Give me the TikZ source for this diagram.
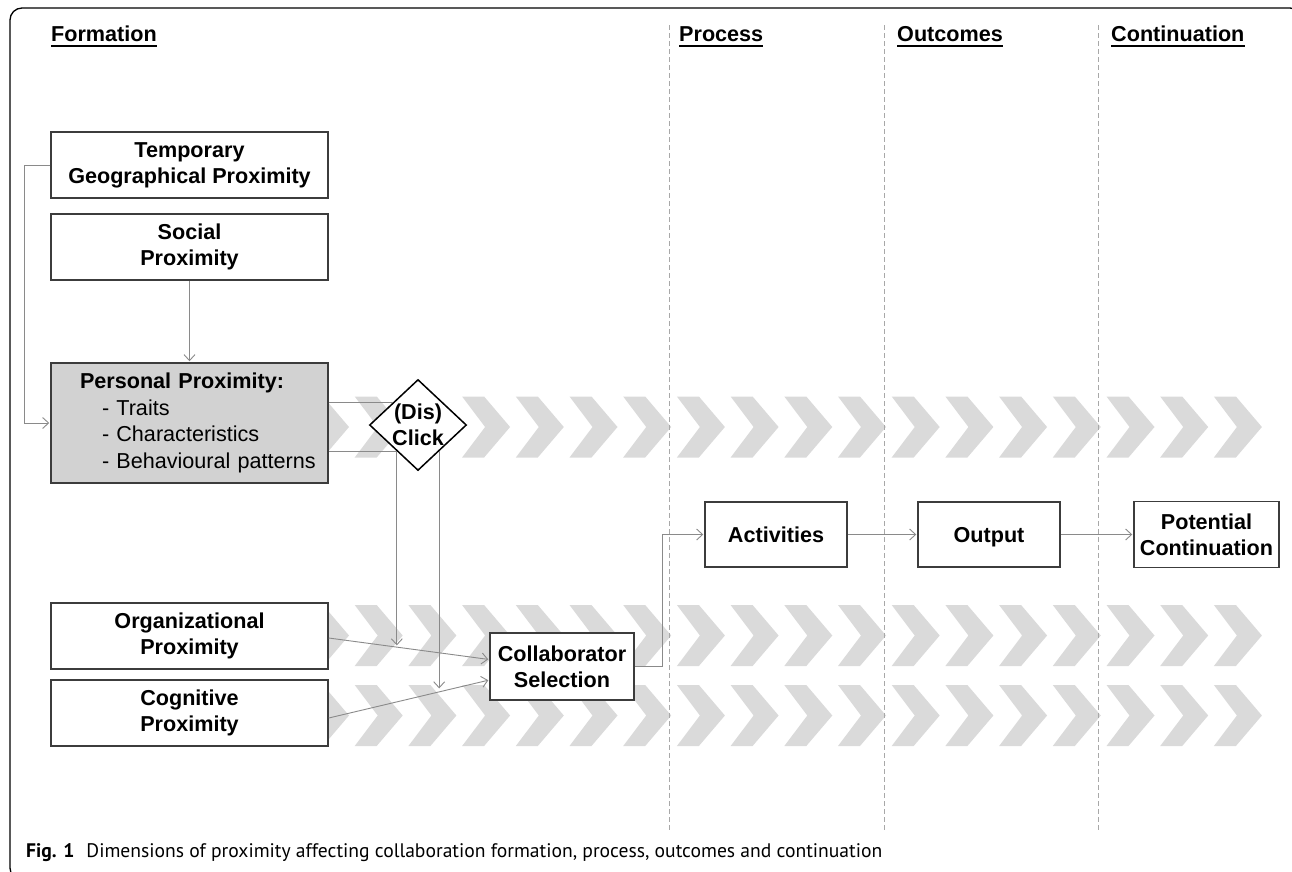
\documentclass[tikz,border=0pt]{standalone}
\usepackage{fontspec}
\setmainfont{Liberation Sans}
\newfontfamily\capfont{PT Sans}
\usetikzlibrary{shapes.geometric,arrows.meta,calc}
\definecolor{chevgray}{HTML}{DADADA}
\definecolor{boxgray}{HTML}{D2D2D2}
\definecolor{linkgray}{HTML}{8A8A8A}
\definecolor{dashgray}{HTML}{A8A8A8}
\definecolor{edgegray}{HTML}{3C3C3C}

\begin{document}
\fontsize{21.6}{26}\selectfont
\begin{tikzpicture}[x=1pt, y=-1pt,
    box/.style={draw=edgegray, line width=1.5pt, fill=white, minimum width=#1,
        minimum height=66pt, align=center, inner sep=2pt, font=\bfseries},
    box/.default=277pt,
    oneline/.style={text height=15.6pt, text depth=0pt},
    link/.style={draw=linkgray, line width=0.9pt},
    arr/.style={link, -{Straight Barb[length=6pt, width=11pt]}, shorten >=1pt},
    phase/.style={dashgray, line width=1pt, dash pattern=on 5pt off 3pt},
    head/.style={anchor=base west, inner sep=0pt, font=\bfseries}]
    \useasboundingbox (0,0) rectangle (1292,871);

    % Rahmen
    \draw[line width=1.3pt, rounded corners=12pt] (10,8) rectangle (1302,880);

    % Pfeilbaender
    \foreach \ym in {427,635.5,715.5}
        \foreach \k in {0,...,17}
            \fill[chevgray] ({301+53.7*\k},\ym-30.5) -- ++(22,0) -- ({349+53.7*\k},\ym)
                -- ({323+53.7*\k},\ym+30.5) -- ++(-22,0) -- ({324+53.7*\k},\ym) -- cycle;

    % Phasen
    \foreach \x in {669,884,1098}
        \draw[phase] (\x,25) -- (\x,830);
    \foreach \x/\name/\txt in {51/hform/Formation, 679/hproc/Process,
        897/hout/Outcomes, 1111/hcont/Continuation} {
        \node[head] (\name) at (\x,41) {\txt};
        \draw[line width=2pt] ([yshift=-5pt]\name.base west) -- ([yshift=-5pt]\name.base east);
    }

    % Formation
    \node[box] (temp) at (189.5,165) {Temporary\\Geographical Proximity};
    \node[box] (soc) at (189.5,247) {Social\\Proximity};
    \node[box, fill=boxgray, minimum height=120pt, text width=262pt, align=left,
        font=\mdseries\fontsize{21.6}{26.7}\selectfont] (pers) at (189.5,423) {%
        \hspace*{21.5pt}\textbf{Personal Proximity:}\\
        \hspace*{43.5pt}- Traits\\
        \hspace*{43.5pt}- Characteristics\\
        \hspace*{43.5pt}- Behavioural patterns};
    \node[box] (org) at (189.5,636) {Organizational\\Proximity};
    \node[box] (cog) at (189.5,713) {Cognitive\\Proximity};
    \node[diamond, draw=black, line width=1.5pt, fill=white, minimum width=97pt,
        minimum height=91pt, inner sep=-2pt, align=center, font=\bfseries]
        (click) at (418,425) {(Dis)\\Click};
    \node[box=144pt, minimum height=67pt] (collab) at (562,666.5) {Collaborator\\Selection};

    % Process, Outcomes, Continuation
    \node[box=142pt, minimum height=65pt, oneline] (act) at (776,534.5) {Activities};
    \node[box=142pt, minimum height=65pt, oneline] (out) at (989,534.5) {Output};
    \node[box=145pt] (cont) at (1206.5,534.5) {Potential\\Continuation};

    % Verbindungen
    \coordinate (ctop) at ($(click.west)!0.48!(click.north)$);
    \coordinate (clow) at ($(click.west)!0.57!(click.south)$);
    \coordinate (crgt) at ($(click.east)!0.57!(click.south)$);
    \draw[arr] (temp.west) -- ++(-26,0) |- (pers.west);
    \draw[arr] (soc.south) -- (pers.north);
    \draw[link] (pers.east |- ctop) -- (ctop);
    \draw[arr] (pers.east |- clow) -- (clow) -- ++(0,195);
    \draw[arr] (crgt) -- ++(0,238);
    \draw[arr] ([yshift=-2pt]org.east) -- ([yshift=7pt]collab.west);
    \draw[arr] ([yshift=-5pt]cog.east) -- ([yshift=-13.5pt]collab.west);
    \draw[arr] (collab.east) -- ++(28,0) |- (act.west);
    \draw[arr] (act) -- (out);
    \draw[arr] (out) -- (cont);

    % Bildunterschrift
    \node[anchor=base west, inner sep=0pt, font=\capfont\fontsize{19.6}{22}\selectfont]
        (cap) at (26,857) {\textbf{Fig. 1}\hspace{12pt}Dimensions of proximity affecting
        collaboration formation, process, outcomes and continuation};
\end{tikzpicture}
\end{document}
